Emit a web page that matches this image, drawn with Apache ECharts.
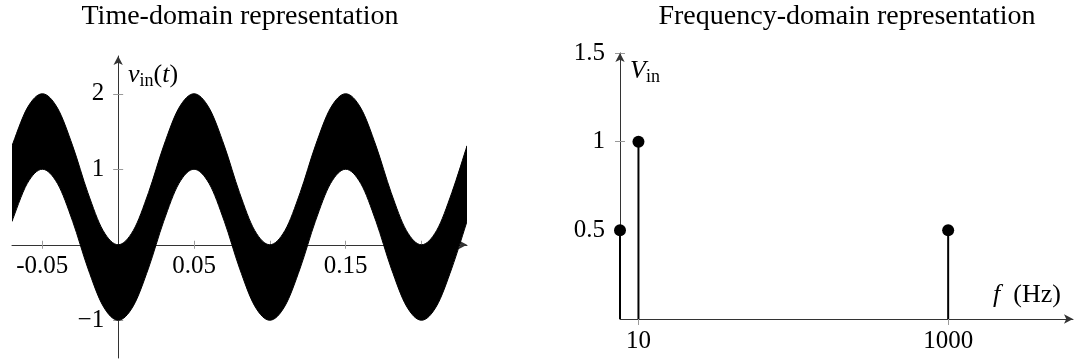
<!DOCTYPE html>
<html>
<head>
<meta charset="utf-8">
<script src="https://cdn.jsdelivr.net/npm/echarts@6/dist/echarts.min.js"></script>
<style>
  html, body { margin: 0; padding: 0; background: #fff; }
  #chart { width: 1075px; height: 362px; }
</style>
</head>
<body>
<div id="chart"></div>
<script>
// time-domain: envelope of the 1000 Hz ripple, every 10 ms
const timeS = [-0.07, -0.06, -0.05, -0.04, -0.03, -0.02, -0.01, 0, 0.01, 0.02, 0.03,
  0.04, 0.05, 0.06, 0.07, 0.08, 0.09, 0.1, 0.11, 0.12, 0.13, 0.14, 0.15, 0.16,
  0.17, 0.18, 0.19, 0.2, 0.21, 0.22, 0.23]
const vUpper = [1.31, 1.81, 2, 1.81, 1.31, 0.69, 0.19, 0, 0.19, 0.69, 1.31,
  1.81, 2, 1.81, 1.31, 0.69, 0.19, 0, 0.19, 0.69, 1.31, 1.81, 2, 1.81,
  1.31, 0.69, 0.19, 0, 0.19, 0.69, 1.31]
const vLower = [0.31, 0.81, 1, 0.81, 0.31, -0.31, -0.81, -1, -0.81, -0.31, 0.31,
  0.81, 1, 0.81, 0.31, -0.31, -0.81, -1, -0.81, -0.31, 0.31, 0.81, 1, 0.81,
  0.31, -0.31, -0.81, -1, -0.81, -0.31, 0.31]
const timeTicks = [-0.05, 0.05, 0.1, 0.15, 0.2]
const timeLabels = [-0.05, 0.05, 0.15]
const voltTicks = [-1, 1, 2]

// frequency-domain: DC, 10 Hz, 1000 Hz
const freqHz = [0, 10, 1000]
const ampV = [0.5, 1, 0.5]
const freqTicks = [10, 1000]
const ampTicks = [0.5, 1, 1.5]
const fAxisMin = 7.6 // log axis has no 0, DC sits on the vertical axis
const fAxisMax = 6400

const serif = 'Liberation Serif'
const axisColor = '#333'
const tickColor = '#999'

// left panel box and ranges, axes are shifted onto t=0 / v=0
const tMin = -0.07, tMax = 0.23, vMin = -1.5, vMax = 2.5
const g1 = { left: 12, right: 608, top: 56, bottom: 4 }
const g1w = 1075 - g1.left - g1.right
const g1h = 362 - g1.top - g1.bottom
const xShift = -(vMin / (vMin - vMax)) * g1h   // bottom edge -> v=0
const yShift = -(-tMin / (tMax - tMin)) * g1w  // left edge -> t=0

const myChart = echarts.init(document.getElementById('chart'))

function twin(base, pos) {
  // same axis again with ticks on the other side, so ticks cross the line
  return Object.assign({}, base, {
    position: pos,
    axisLine: { show: false, onZero: false },
    axisLabel: { show: false },
    axisTick: Object.assign({}, base.axisTick, { inside: true })
  })
}

function smoothPath(pts) {
  // catmull-rom through the mapped points
  let d = ''
  for (let i = 0; i < pts.length - 1; i++) {
    const p0 = pts[Math.max(i - 1, 0)]
    const p1 = pts[i]
    const p2 = pts[i + 1]
    const p3 = pts[Math.min(i + 2, pts.length - 1)]
    const c1 = [p1[0] + (p2[0] - p0[0]) / 6, p1[1] + (p2[1] - p0[1]) / 6]
    const c2 = [p2[0] - (p3[0] - p1[0]) / 6, p2[1] - (p3[1] - p1[1]) / 6]
    d += ' C' + c1.join(' ') + ' ' + c2.join(' ') + ' ' + p2.join(' ')
  }
  return d
}

const xTime = {
  type: 'value', gridIndex: 0, min: tMin, max: tMax, position: 'bottom', offset: xShift,
  axisLine: { onZero: false, symbol: ['none', 'arrow'], symbolSize: [7, 9], lineStyle: { color: axisColor, width: 1 } },
  axisTick: { customValues: timeTicks, length: 4, lineStyle: { color: tickColor } },
  axisLabel: {
    customValues: timeLabels, margin: 9, color: '#000', fontFamily: serif, fontSize: 25,
    formatter: v => v.toFixed(2)
  },
  splitLine: { show: false }
}
const yVolt = {
  type: 'value', gridIndex: 0, min: vMin, max: vMax, position: 'left', offset: yShift,
  axisLine: { onZero: false, symbol: ['none', 'arrow'], symbolSize: [7, 9], lineStyle: { color: axisColor, width: 1 } },
  axisTick: { customValues: voltTicks, length: 5, lineStyle: { color: tickColor } },
  axisLabel: {
    customValues: voltTicks, margin: 14, color: '#000', fontFamily: serif, fontSize: 25,
    formatter: v => (v < 0 ? '\u2212' + Math.abs(v) : String(v))
  },
  splitLine: { show: false }
}
const xFreq = {
  type: 'log', gridIndex: 1, min: fAxisMin, max: fAxisMax, position: 'bottom',
  axisLine: { onZero: false, symbol: ['none', 'arrow'], symbolSize: [7, 9], lineStyle: { color: axisColor, width: 1 } },
  axisTick: { customValues: freqTicks, length: 6, lineStyle: { color: tickColor } },
  axisLabel: { customValues: freqTicks, margin: 10, color: '#000', fontFamily: serif, fontSize: 25, formatter: v => String(v) },
  splitLine: { show: false }
}
const yAmp = {
  type: 'value', gridIndex: 1, min: 0, max: 1.5, position: 'left',
  axisLine: { onZero: false, symbol: ['none', 'arrow'], symbolSize: [7, 9], lineStyle: { color: axisColor, width: 1 } },
  axisTick: { customValues: ampTicks, length: 5, lineStyle: { color: tickColor } },
  axisLabel: { customValues: ampTicks, margin: 15, color: '#000', fontFamily: serif, fontSize: 25, formatter: v => String(v) },
  splitLine: { show: false }
}

const rich = {
  i: { fontFamily: serif, fontStyle: 'italic', fontSize: 26, lineHeight: 28, fill: '#000' },
  n: { fontFamily: serif, fontSize: 26, lineHeight: 28, fill: '#000' },
  s: { fontFamily: serif, fontSize: 18, lineHeight: 16, padding: [12, 0, 0, 0], fill: '#000' }
}

const option = {
  animation: false,
  grid: [
    Object.assign({ outerBoundsMode: 'none', containLabel: false }, g1),
    { left: 620, right: 2, top: 53, bottom: 43, outerBoundsMode: 'none', containLabel: false }
  ],
  xAxis: [xTime, twin(xTime, 'bottom'), xFreq],
  yAxis: [yVolt, twin(yVolt, 'left'), yAmp, twin(yAmp, 'left')],
  graphic: [
    { type: 'text', x: 240, y: 17, style: { text: 'Time-domain representation', font: '28px "Liberation Serif"', fill: '#000', align: 'center', verticalAlign: 'middle' } },
    { type: 'text', x: 847, y: 17, style: { text: 'Frequency-domain representation', font: '28px "Liberation Serif"', fill: '#000', align: 'center', verticalAlign: 'middle' } },
    { type: 'text', x: 128, y: 61, style: { text: '{i|v}{s|in}{n|(}{i|t}{n|)}', rich: rich } },
    { type: 'text', x: 630, y: 57, style: { text: '{i|V}{s|in}', rich: rich } },
    { type: 'text', x: 993, y: 281, style: { text: '{i|f}{n|  (Hz)}', rich: rich } }
  ],
  series: [
    {
      // filled band between the two envelopes
      type: 'custom', xAxisIndex: 0, yAxisIndex: 0, clip: true, silent: true,
      data: [0],
      renderItem: function(params, api) {
        const up = timeS.map((t, i) => api.coord([t, vUpper[i]]))
        const low = timeS.map((t, i) => api.coord([t, vLower[i]])).reverse()
        const d = 'M' + up[0].join(' ') + smoothPath(up) +
          ' L' + low[0].join(' ') + smoothPath(low) + ' Z'
        return {
          type: 'path',
          shape: { pathData: d },
          style: { fill: '#000', stroke: '#000', lineWidth: 1 }
        }
      }
    },
    {
      type: 'custom', xAxisIndex: 2, yAxisIndex: 2, clip: false, z: 3,
      data: freqHz.map((f, i) => [f === 0 ? fAxisMin : f, ampV[i]]),
      renderItem: function(params, api) {
        const top = api.coord([api.value(0), api.value(1)])
        const base = api.coord([api.value(0), 0])
        return {
          type: 'line',
          shape: { x1: top[0], y1: top[1], x2: base[0], y2: base[1] },
          style: { stroke: '#000', lineWidth: 2 }
        }
      }
    },
    {
      type: 'scatter', xAxisIndex: 2, yAxisIndex: 2, clip: false, z: 4,
      data: freqHz.map((f, i) => [f === 0 ? fAxisMin : f, ampV[i]]),
      symbol: 'circle', symbolSize: 12,
      itemStyle: { color: '#000', opacity: 1 }
    }
  ]
}

myChart.setOption(option)
</script>
</body>
</html>
